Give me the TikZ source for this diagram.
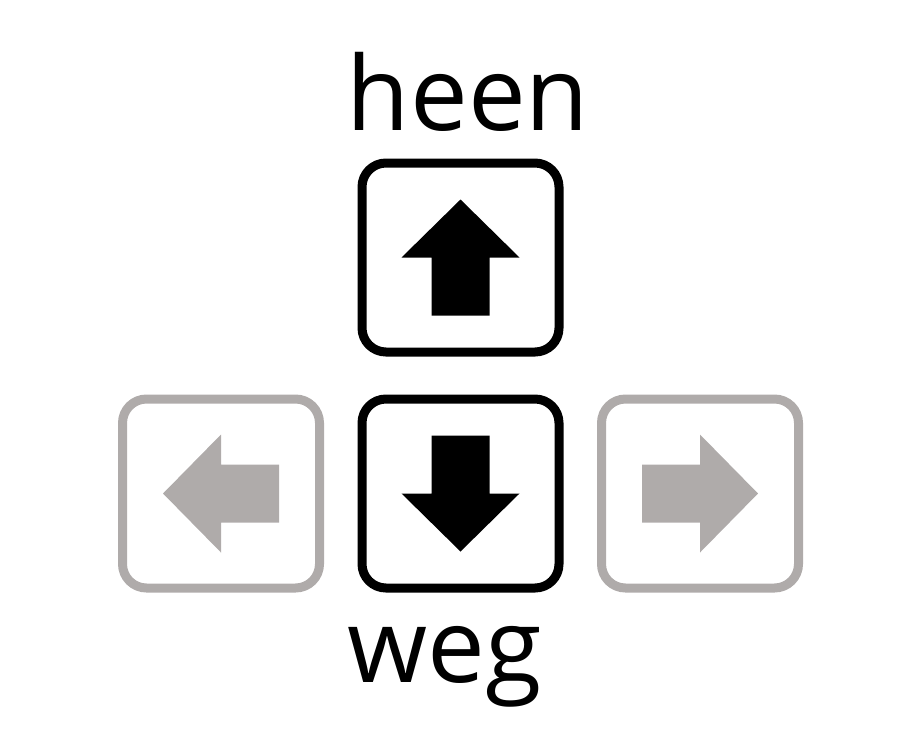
\documentclass[tikz,border=0pt]{standalone}
\usepackage{fontspec}
\setmainfont{Open Sans}
\definecolor{keygray}{HTML}{AFABAA}

\begin{document}
\begin{tikzpicture}[x=1pt,y=1pt,
  key/.style={draw,line width=9pt,rounded corners=24pt,minimum width=197pt,minimum height=189pt,inner sep=0pt},
  word/.style={anchor=base,font=\fontsize{103}{110}\selectfont}]
\useasboundingbox (0,0) rectangle (921,-748);
% keys with their arrows
\foreach \k/\x/\y/\ang/\col in {up/460.5/-257.5/0/black,down/460.5/-493.5/180/black,left/221/-493.5/90/keygray,right/700/-493.5/-90/keygray} {
  \node[key,\col] (\k) at (\x,\y) {};
  \fill[\col,shift={(\k.center)},rotate=\ang] (0,58) -- (59,0) -- (29,0) -- (29,-58) -- (-29,-58) -- (-29,0) -- (-59,0) -- cycle;
}
\node[word] (heen) at (468,-130) {heen};
\node[word] (weg) at (445,-682) {weg};
\end{tikzpicture}
\end{document}
